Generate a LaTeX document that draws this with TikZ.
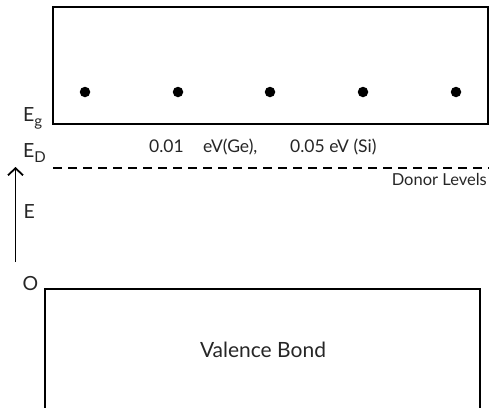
\documentclass[tikz,border=0pt]{standalone}
\usepackage{fontspec}
\setmainfont{Lato}
\usetikzlibrary{arrows.meta}
\newcommand{\bandsub}[1]{\raisebox{-5pt}{\fontsize{15}{17}\selectfont #1}}
\tikzset{
  band/.style={draw, line width=2pt, inner sep=0pt, outer sep=0pt},
  lbl/.style={inner sep=0pt, font=\fontsize{19.5}{22}\selectfont, text=black!85},
  txt/.style={inner sep=0pt, font=\fontsize{17.5}{20}\selectfont, text=black!85},
  electron/.style={circle, fill=black, inner sep=0pt, minimum size=10.5pt},
}
\begin{document}
\begin{tikzpicture}[x=1pt,y=-1pt]
\useasboundingbox (0,0) rectangle (490,407);
% conduction band
\node[band, minimum width=435pt, minimum height=117pt, anchor=north west] (cb) at (53,7) {};
\foreach \x/\n in {85/a,178/b,270/c,363/d,456/e}
  \node[electron] (dot\n) at (\x,92) {};
% valence band (open at the bottom)
\coordinate (vbl) at (45,410);
\coordinate (vbr) at (480,410);
\draw[line width=2pt] (vbl) |- (262,289) coordinate (vbt) -| (vbr);
\node[inner sep=0pt, font=\fontsize{21}{24}\selectfont, text=black!85, anchor=base] (vb) at (263,357) {Valence Bond};
% donor level
\coordinate (dl) at (53,168);
\coordinate (dr) at (489,168);
\draw[line width=1.5pt, dash pattern=on 9pt off 6pt] (dl) -- (dr);
\node[txt, anchor=base west] (ev1) at (149,152) {0.01};
\node[txt, anchor=base west] (ev2) at (203,152) {eV(Ge),};
\node[txt, anchor=base west] (ev3) at (290,152) {0.05 eV (Si)};
\node[txt, font=\fontsize{16.5}{19}\selectfont, anchor=base east] (don) at (487,185) {Donor Levels};
% labels
\node[lbl, anchor=base west] (eg) at (23,121) {E\bandsub{g}};
\node[lbl, anchor=base west] (ed) at (23,157) {E\bandsub{D}};
\node[lbl, anchor=base west] (e) at (23.5,218) {E};
\node[lbl, anchor=base west] (o) at (22.5,290) {O};
% energy arrow
\coordinate (a0) at (15.5,262);
\coordinate (a1) at (15.5,167);
\draw[line width=1.8pt, -{Straight Barb[length=7pt,width=15pt,line width=1.8pt]}] (a0) -- (a1);
\end{tikzpicture}
\end{document}
